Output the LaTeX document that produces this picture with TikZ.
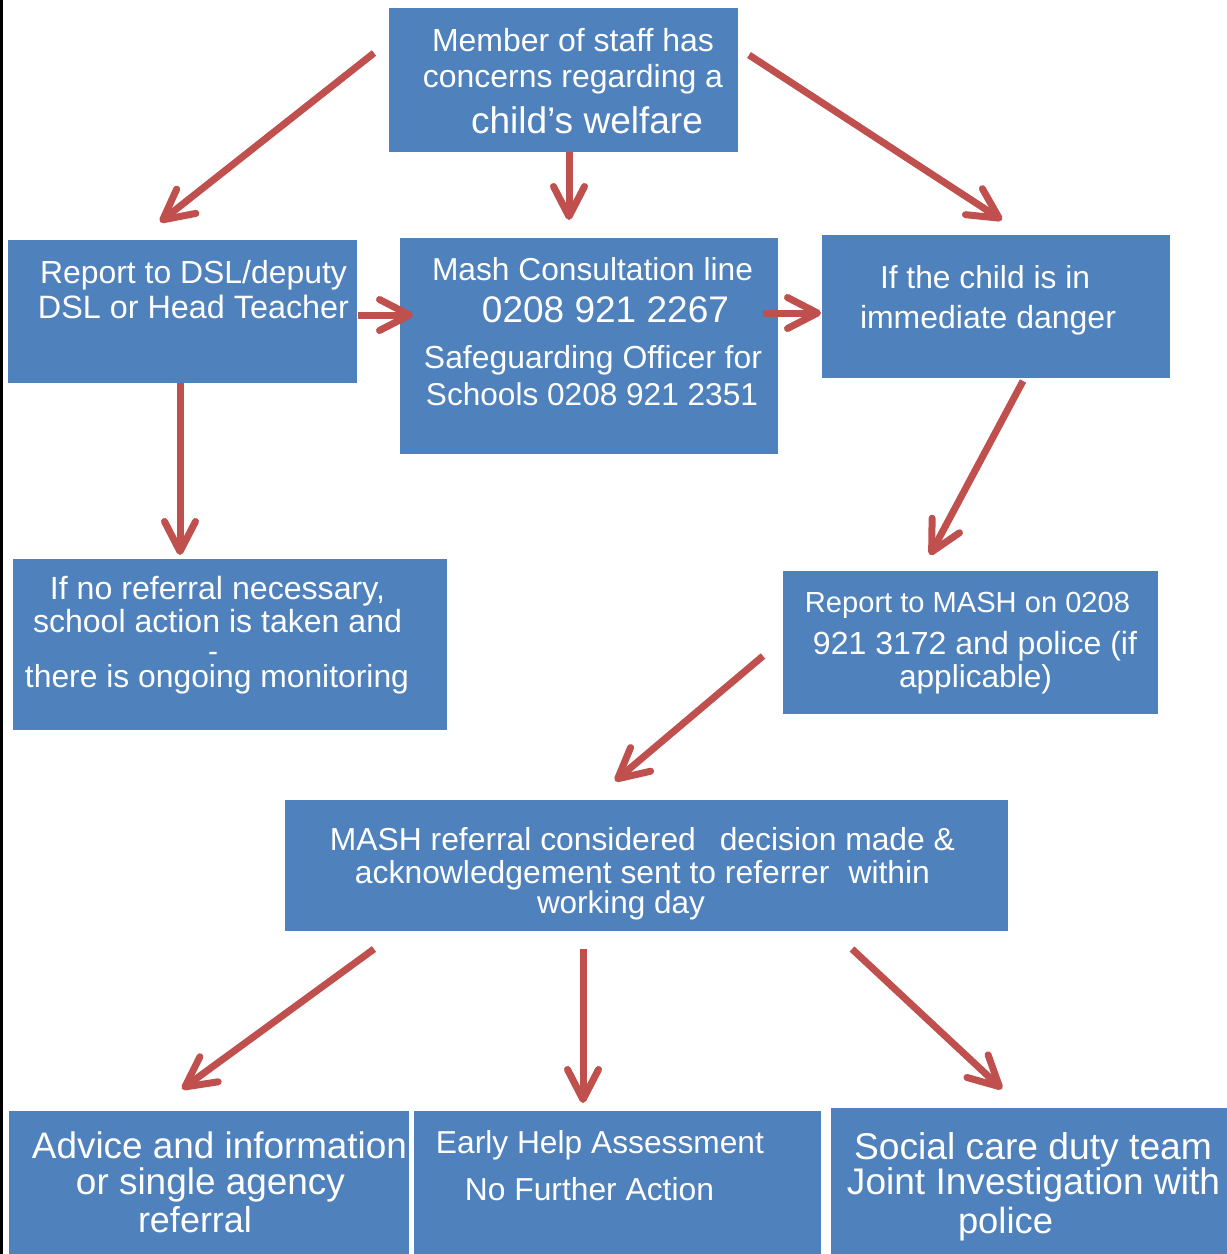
\documentclass[tikz,border=0pt]{standalone}
\usepackage{fontspec}
\setmainfont{Liberation Sans}
\usetikzlibrary{arrows.meta}
\definecolor{boxblue}{HTML}{4F81BD}
\definecolor{arrowred}{HTML}{C0504D}
\newcommand\fitw[2]{\resizebox{#1pt}{!}{#2}}
\begin{document}
\begin{tikzpicture}[x=1pt,y=-1pt,
  box/.style={fill=boxblue, draw=none, inner sep=0pt, rectangle},
  txt/.style={text=white, inner sep=0pt, anchor=base, font=\fontsize{30}{36}\selectfont},
  arr/.style={draw=arrowred, line width=7pt, -{Straight Barb[length=30pt,width=31pt,round]}},
  edgeline/.style={draw=black, line width=3pt}]
\useasboundingbox (0,0) rectangle (1227,1254);
\fill[white] (0,0) rectangle (1227,1254);
\coordinate (eTop) at (1.5,0);
\coordinate (eBot) at (1.5,1254);
\draw[edgeline] (eTop) -- (eBot);

% boxes
\node[box, minimum width=349pt, minimum height=144pt] (top) at (563.5,80) {};
\node[box, minimum width=349pt, minimum height=143pt] (dsl) at (182.5,311.5) {};
\node[box, minimum width=378pt, minimum height=216pt] (mash) at (589,346) {};
\node[box, minimum width=348pt, minimum height=143pt] (danger) at (996,306.5) {};
\node[box, minimum width=434pt, minimum height=171pt] (noref) at (230,644.5) {};
\node[box, minimum width=375pt, minimum height=143pt] (rmash) at (970.5,642.5) {};
\node[box, minimum width=723pt, minimum height=131pt] (mref) at (646.5,865.5) {};
\node[box, minimum width=400pt, minimum height=143pt] (advice) at (209,1182.5) {};
\node[box, minimum width=407pt, minimum height=143pt] (early) at (617.5,1182.5) {};
\node[box, minimum width=396pt, minimum height=146pt] (social) at (1029,1181) {};

% texts
\node[txt] (top1) at (573,51) {\fitw{282}{Member of staff has}};
\node[txt] (top2) at (573,87) {\fitw{300}{concerns regarding a}};
\node[txt] (top3) at (587,133) {\fitw{232}{child’s welfare}};

\node[txt] (dsl1) at (193.5,283) {\fitw{307}{Report to DSL/deputy}};
\node[txt] (dsl2) at (193.5,318) {\fitw{311}{DSL or Head Teacher}};

\node[txt] (mash1) at (592.5,280) {\fitw{321}{Mash Consultation line}};
\node[txt] (mash2) at (605.5,322) {\fitw{247}{0208 921 2267}};
\node[txt] (mash3) at (593,368) {\fitw{338}{Safeguarding Officer for}};
\node[txt] (mash4) at (592,405) {\fitw{332}{Schools 0208 921 2351}};

\node[txt] (dan1) at (985,288) {\fitw{210}{If the child is in}};
\node[txt] (dan2) at (988,328) {\fitw{256}{immediate danger}};

\node[txt] (nr1) at (217.5,599) {\fitw{335}{If no referral necessary,}};
\node[txt] (nr2) at (217.5,632) {\fitw{369}{school action is taken and}};
\node[txt] (nr3) at (213,661) {\smash{-}};
\node[txt] (nr4) at (217,687) {\fitw{384}{there is ongoing monitoring}};

\node[txt] (rm1) at (967.5,612) {\fitw{325}{Report to MASH on 0208}};
\node[txt] (rm2) at (975,654) {\fitw{324}{921 3172 and police (if}};
\node[txt] (rm3) at (975.5,687) {\fitw{153}{applicable)}};

\node[txt] (mr1) at (642.5,850) {\fitw{625}{MASH referral considered\hspace{0.75em}decision made \&}};
\node[txt] (mr2) at (642.5,883) {\fitw{575}{acknowledgement sent to referrer\hspace{0.6em}within}};
\node[txt] (mr3) at (621,913) {\fitw{168}{working day}};

\node[txt] (ad1) at (219.5,1158) {\fitw{375}{Advice and information}};
\node[txt] (ad2) at (210.5,1194) {\fitw{269}{or single agency}};
\node[txt] (ad3) at (195,1232) {\fitw{114}{referral}};

\node[txt] (ea1) at (600,1153) {\fitw{328}{Early Help Assessment}};
\node[txt] (ea2) at (589.5,1200) {\fitw{249}{No Further Action}};

\node[txt] (so1) at (1033,1159) {\fitw{358}{Social care duty team}};
\node[txt] (so2) at (1033.5,1194) {\fitw{373}{Joint Investigation with}};
\node[txt] (so3) at (1005.5,1233) {\fitw{95}{police}};

% arrow end points
\coordinate (aS) at (374,53);   \coordinate (aE) at (160,222);
\coordinate (bS) at (569,152);  \coordinate (bE) at (569,220);
\coordinate (cS) at (749,55);   \coordinate (cE) at (1002,220);
\coordinate (dS) at (358,315);  \coordinate (dE) at (413,315);
\coordinate (eS) at (763,313);  \coordinate (eE) at (821,313);
\coordinate (fS) at (180,383);  \coordinate (fE) at (180,555);
\coordinate (gS) at (1023,381); \coordinate (gE) at (930,555);
\coordinate (hS) at (763,656);  \coordinate (hE) at (615,781);
\coordinate (iS) at (374,949);  \coordinate (iE) at (182,1089);
\coordinate (jS) at (583,949);  \coordinate (jE) at (583,1103);
\coordinate (kS) at (852,949);  \coordinate (kE) at (1002,1089);

\draw[arr] (aS) -- (aE);
\draw[arr] (bS) -- (bE);
\draw[arr] (cS) -- (cE);
\draw[arr] (dS) -- (dE);
\draw[arr] (eS) -- (eE);
\draw[arr] (fS) -- (fE);
\draw[arr] (gS) -- (gE);
\draw[arr] (hS) -- (hE);
\draw[arr] (iS) -- (iE);
\draw[arr] (jS) -- (jE);
\draw[arr] (kS) -- (kE);
\end{tikzpicture}
\end{document}
